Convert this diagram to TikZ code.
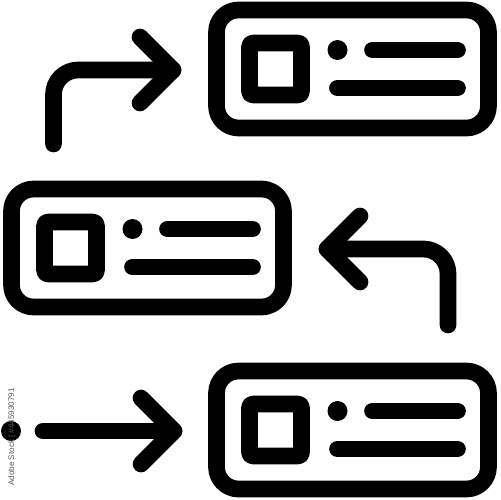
\documentclass[tikz,border=0pt]{standalone}
\usepackage{fontspec}
\newfontfamily\wmfont{Liberation Sans}
\tikzset{
  iconline/.style={line width=9.5pt, line cap=round, line join=round},
  card/.style={draw, iconline, rounded corners=12.5pt, minimum width=5.44cm,
    minimum height=2.36cm, inner sep=0pt},
  wmark/.style={font=\wmfont\fontsize{4.6}{5}\selectfont, text=black!65, inner sep=0pt}
}
\begin{document}
\begin{tikzpicture}[x=0.02cm, y=-0.02cm]
\useasboundingbox (0,0) rectangle (500,500);
\node[card] (top) at (352.5,69) {};
\node[card] (mid) at (147.5,248) {};
\node[card] (bot) at (352.5,430) {};
\foreach \c in {top, mid, bot} {
  \begin{scope}[shift={(\c)}]
    \draw[iconline, rounded corners=2pt] (-103,-26) rectangle (-51,26);
    \fill (-15,-19) circle (0.2cm);
    \draw[iconline] (20,-19) -- (105,-19);
    \draw[iconline] (-15,19) -- (105,19);
  \end{scope}
}
\coordinate (upstart) at (53.5,144);
\coordinate (uptip) at (173,70);
\draw[iconline, rounded corners=14pt] (upstart) |- (uptip);
\draw[iconline] (uptip) ++(-33,-33) -- (uptip) -- ++(-33,33);
\coordinate (backstart) at (448,325);
\coordinate (backtip) at (327,249);
\draw[iconline, rounded corners=14pt] (backstart) |- (backtip);
\draw[iconline] (backtip) ++(33,-33) -- (backtip) -- ++(33,33);
\coordinate (instart) at (43,431);
\coordinate (intip) at (174,431);
\draw[iconline] (instart) -- (intip);
\draw[iconline] (intip) ++(-33,-33) -- (intip) -- ++(-33,33);
\fill (11,431) circle (0.2cm);
\node[wmark, rotate=90] (wm) at (12,437) {Adobe Stock | \#445930791};
\end{tikzpicture}
\end{document}
